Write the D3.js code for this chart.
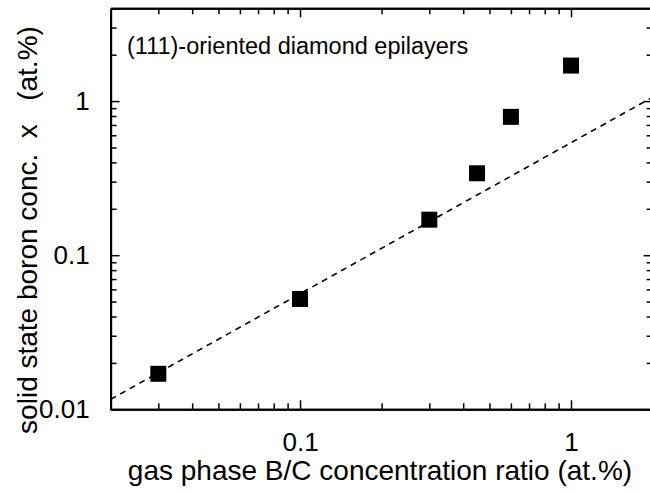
<!DOCTYPE html>
<html>
<head>
<meta charset="utf-8">
<script src="https://cdn.jsdelivr.net/npm/d3@7"></script>
<style>
  html, body { margin: 0; padding: 0; background: #fff; }
  svg { display: block; }
  text { font-family: "Liberation Sans", Arial, Helvetica, sans-serif; fill: #000; }
</style>
</head>
<body>
<svg id="chart" width="650" height="493"></svg>
<script>
// ---- data ----
const gasRatio = [0.03, 0.1, 0.3, 0.45, 0.6, 1.0];
const solidConc = [0.017, 0.052, 0.17, 0.34, 0.79, 1.7];
const fitX = [0.02, 2];
const fitY = [0.0116, 1.06];
const xMajorTicks = [0.1, 1];
const xMinorTicks = [0.03, 0.04, 0.05, 0.06, 0.07, 0.08, 0.09, 0.2, 0.3, 0.4, 0.5, 0.6, 0.7, 0.8, 0.9];
const yMajorTicks = [0.01, 0.1, 1];
const yMinorTicks = [0.02, 0.03, 0.04, 0.05, 0.06, 0.07, 0.08, 0.09, 0.2, 0.3, 0.4, 0.5, 0.6, 0.7, 0.8, 0.9, 2, 3];
const xTickLabels = ["0.1", "1"];
const yTickLabels = ["0.01", "0.1", "1"];
const title = "(111)-oriented diamond epilayers";
const xLabel = "gas phase B/C concentration ratio (at.%)";
const yLabel = "solid state boron conc.  x   (at.%)";

// ---- layout ----
const L = 110.6, R = 652.6, T = 8.3, B = 409.3;
const svg = d3.select("#chart");
const x = d3.scaleLog().domain([0.02, 2]).range([L, R]);
const y = d3.scaleLog().domain([0.01, 4]).range([B, T]);

const majorLen = 9, minorLen = 6;

function styleAxis(g) {
  g.select(".domain").attr("stroke", "#000").attr("stroke-width", 2);
  g.selectAll(".tick line").attr("stroke", "#000").attr("stroke-width", 1.5);
}

// bottom axis: major with labels
const xAxisMajor = d3.axisBottom(x).tickValues(xMajorTicks)
  .tickSize(-majorLen).tickPadding(majorLen + 14)
  .tickFormat((d, i) => xTickLabels[i]).tickSizeOuter(0);
const gxB = svg.append("g").attr("transform", `translate(0,${B})`).call(xAxisMajor);
styleAxis(gxB);
gxB.selectAll(".tick text").attr("font-size", 26).attr("font-family", "Liberation Sans, Arial, sans-serif");
const gxBm = svg.append("g").attr("transform", `translate(0,${B})`)
  .call(d3.axisBottom(x).tickValues(xMinorTicks).tickSize(-minorLen).tickFormat("").tickSizeOuter(0));
styleAxis(gxBm);

// top axis
const gxT = svg.append("g").attr("transform", `translate(0,${T})`)
  .call(d3.axisTop(x).tickValues(xMajorTicks).tickSize(-majorLen).tickFormat("").tickSizeOuter(0));
styleAxis(gxT);
const gxTm = svg.append("g").attr("transform", `translate(0,${T})`)
  .call(d3.axisTop(x).tickValues(xMinorTicks).tickSize(-minorLen).tickFormat("").tickSizeOuter(0));
styleAxis(gxTm);

// left axis
const gyL = svg.append("g").attr("transform", `translate(${L},0)`)
  .call(d3.axisLeft(y).tickValues(yMajorTicks).tickSize(-majorLen).tickPadding(majorLen + 12)
    .tickFormat((d, i) => yTickLabels[i]).tickSizeOuter(0));
styleAxis(gyL);
gyL.selectAll(".tick text").attr("font-size", 26).attr("font-family", "Liberation Sans, Arial, sans-serif");
const gyLm = svg.append("g").attr("transform", `translate(${L},0)`)
  .call(d3.axisLeft(y).tickValues(yMinorTicks).tickSize(-minorLen).tickFormat("").tickSizeOuter(0));
styleAxis(gyLm);

// right axis
const gyR = svg.append("g").attr("transform", `translate(${R},0)`)
  .call(d3.axisRight(y).tickValues(yMajorTicks).tickSize(-majorLen).tickFormat("").tickSizeOuter(0));
styleAxis(gyR);
const gyRm = svg.append("g").attr("transform", `translate(${R},0)`)
  .call(d3.axisRight(y).tickValues(yMinorTicks).tickSize(-minorLen).tickFormat("").tickSizeOuter(0));
styleAxis(gyRm);

// fit line (dashed)
const line = d3.line().x(d => x(d[0])).y(d => y(d[1]));
svg.append("path")
  .datum(fitX.map((v, i) => [v, fitY[i]]))
  .attr("d", line)
  .attr("fill", "none").attr("stroke", "#000")
  .attr("stroke-width", 1.6).attr("stroke-dasharray", "6,5");

// data squares
const sz = 16;
svg.append("g").selectAll("rect")
  .data(gasRatio.map((v, i) => [v, solidConc[i]]))
  .join("rect")
  .attr("x", d => x(d[0]) - sz / 2)
  .attr("y", d => y(d[1]) - sz / 2)
  .attr("width", sz).attr("height", sz)
  .attr("fill", "#000");

// title inside plot
svg.append("text").attr("x", 127).attr("y", 54)
  .attr("font-size", 23.5).text(title);

// axis labels
svg.append("text").attr("x", 380).attr("y", 480)
  .attr("text-anchor", "middle").attr("font-size", 28)
  .text(xLabel);
svg.append("text")
  .attr("transform", `translate(37,230) rotate(-90)`)
  .attr("text-anchor", "middle").attr("font-size", 28)
  .style("white-space", "pre")
  .text(yLabel);
</script>
</body>
</html>
